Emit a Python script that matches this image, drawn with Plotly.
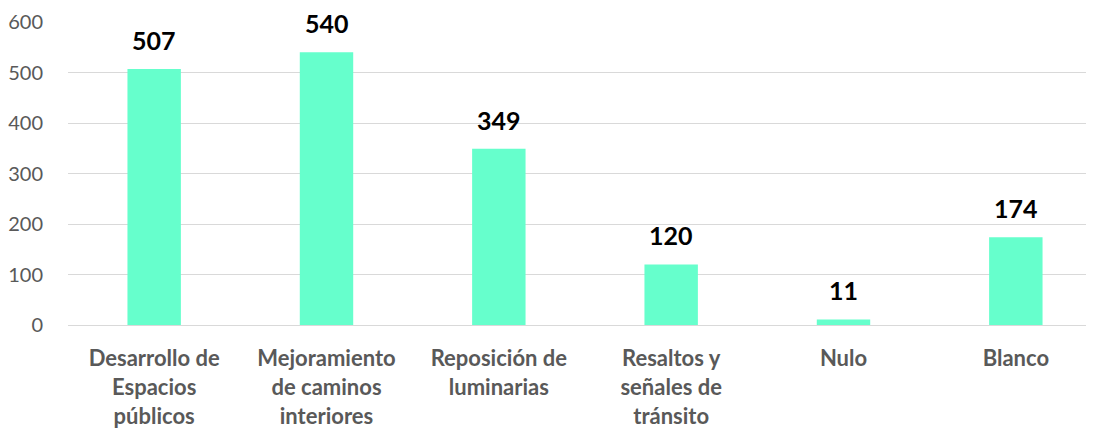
import plotly.graph_objects as go

categorias = [
    "Desarrollo de<br>Espacios<br>públicos",
    "Mejoramiento<br>de caminos<br>interiores",
    "Reposición de<br>luminarias",
    "Resaltos y<br>señales de<br>tránsito",
    "Nulo",
    "Blanco",
]
votos = [507, 540, 349, 120, 11, 174]

fig = go.Figure()
fig.add_trace(go.Bar(
    x=categorias,
    y=votos,
    marker=dict(color="#66FFCC", line=dict(width=0)),
    hoverinfo="x+y",
))

# etiquetas de valor sobre cada barra
for c, v in zip(categorias, votos):
    fig.add_annotation(
        x=c, y=v, text=str(v), showarrow=False,
        yanchor="bottom", yshift=12,
        font=dict(family="Lato", size=25, color="#000000", weight="bold"),
    )

# la página tiene 8px de margen en el body, se compensa aquí
fig.update_layout(
    width=1094,
    height=429,
    margin=dict(l=60, r=0, t=14, b=112),
    plot_bgcolor="white",
    paper_bgcolor="white",
    showlegend=False,
    bargap=0.69,
    font=dict(family="Lato", color="#595959"),
)
fig.update_yaxes(
    range=[0, 600],
    dtick=100,
    showgrid=True,
    gridcolor="#D9D9D9",
    gridwidth=1,
    zeroline=False,
    automargin=False,
    tickfont=dict(size=20, color="#595959"),
    ticklabelstandoff=24,
)
fig.update_xaxes(
    showline=True,
    linecolor="#D9D9D9",
    linewidth=1,
    automargin=False,
    tickfont=dict(size=22, color="#595959", weight="bold"),
    ticklabelstandoff=14,
)

fig.write_html("out.html")
